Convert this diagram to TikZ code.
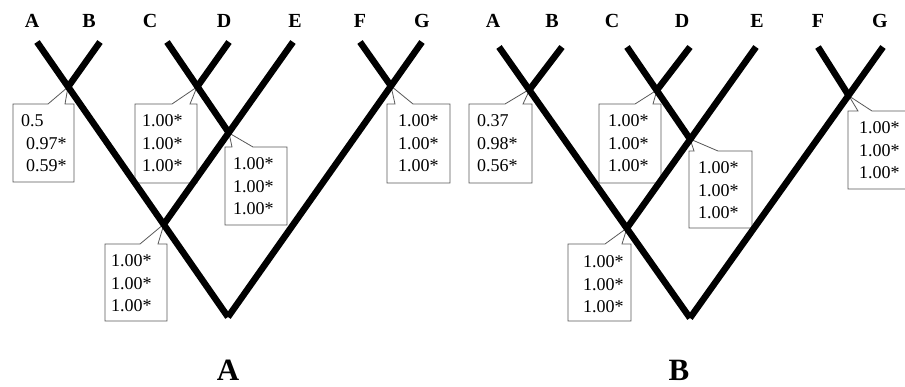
\documentclass[tikz,border=0pt]{standalone}
\usepackage{fontspec}
\setmainfont{Liberation Serif}
\tikzset{
  branch/.style={line width=6.5pt, line cap=butt},
  callbox/.style={draw=black!65, line width=0.8pt, fill=white},
  val/.style={anchor=base west, inner sep=0pt, font=\fontsize{18}{22}\selectfont},
  tiplabel/.style={font=\fontsize{20}{24}\selectfont\bfseries, inner sep=0pt},
  panel/.style={font=\fontsize{31}{36}\selectfont\bfseries, inner sep=0pt}
}
\newcommand\mycallout[7]{\draw[callbox] (#1,#2) -- (#5,#2) -- (#7) -- (#6,#2) -- (#3,#2) -- (#3,#4) -- (#1,#4) -- cycle;}
\newcommand\myvals[6]{%
  \node[val] (#1a) at (#2,#3) {#4};
  \node[val] (#1b) at (#2,#3+22.5) {#5};
  \node[val] (#1c) at (#2,#3+45) {#6};}
\begin{document}
\begin{tikzpicture}[x=1pt,y=-1pt]
\useasboundingbox (0,0) rectangle (905,387);
\clip (0,0) rectangle (905,387);
% ---------- Tree A coordinates ----------
\coordinate (aA) at (37,42);
\coordinate (aB) at (100,42);
\coordinate (aC) at (167,42);
\coordinate (aD) at (229,42);
\coordinate (aE) at (293,42);
\coordinate (aF) at (360,42);
\coordinate (aG) at (422,42);
\coordinate (aAB) at (68,87);
\coordinate (aCD) at (197,87);
\coordinate (aCDE) at (229,133);
\coordinate (aABCDE) at (164,224);
\coordinate (aFG) at (391,86);
\coordinate (aR) at (228,317);
% ---------- Tree B coordinates ----------
\coordinate (bA) at (499,47);
\coordinate (bB) at (562,47);
\coordinate (bC) at (627,47);
\coordinate (bD) at (690,47);
\coordinate (bE) at (756,47);
\coordinate (bF) at (818,47);
\coordinate (bG) at (883,47);
\coordinate (bAB) at (530,89);
\coordinate (bCD) at (657,90);
\coordinate (bCDE) at (690,139);
\coordinate (bABCDE) at (627,228);
\coordinate (bFG) at (849,96);
\coordinate (bR) at (690,318);
% ---------- callout boxes ----------
\mycallout{13}{104}{74}{182}{48}{65}{aAB}
\mycallout{135}{104}{197}{183}{172}{190}{aCD}
\mycallout{225}{147}{287}{225}{232}{253}{aCDE}
\mycallout{387}{104}{450}{183}{395}{413}{aFG}
\mycallout{105}{244}{167}{321}{140}{158}{aABCDE}
\mycallout{469}{104}{532}{183}{505}{523}{bAB}
\mycallout{599}{104}{661}{183}{635}{653}{bCD}
\mycallout{689}{151}{752}{228}{694}{718}{bCDE}
\mycallout{848}{111}{915}{189}{858}{872}{bFG}
\mycallout{568}{244}{631}{321}{605}{622}{bABCDE}
% ---------- branches ----------
\foreach \t in {a,b}{
  \draw[branch] (\t A) -- (\t R);
  \draw[branch] (\t B) -- (\t AB);
  \draw[branch] (\t C) -- (\t CDE);
  \draw[branch] (\t D) -- (\t CD);
  \draw[branch] (\t E) -- (\t ABCDE);
  \draw[branch] (\t F) -- (\t FG);
  \draw[branch] (\t G) -- (\t R);
}
% ---------- support values ----------
\node[val] (v1a) at (21,127) {0.5};
\node[val] (v1b) at (26,149.5) {0.97*};
\node[val] (v1c) at (26,172) {0.59*};
\myvals{v2}{142}{127}{1.00*}{1.00*}{1.00*}
\myvals{v3}{233}{170}{1.00*}{1.00*}{1.00*}
\myvals{v4}{398}{127}{1.00*}{1.00*}{1.00*}
\myvals{v5}{111}{267}{1.00*}{1.00*}{1.00*}
\myvals{w1}{477}{127}{0.37}{0.98*}{0.56*}
\myvals{w2}{608}{127}{1.00*}{1.00*}{1.00*}
\myvals{w3}{698}{174}{1.00*}{1.00*}{1.00*}
\myvals{w4}{859}{134}{1.00*}{1.00*}{1.00*}
\myvals{w5}{583}{268}{1.00*}{1.00*}{1.00*}
% ---------- tip labels ----------
\node[tiplabel] (laA) at (32,21) {A};
\node[tiplabel] (laB) at (89,21) {B};
\node[tiplabel] (laC) at (150,21) {C};
\node[tiplabel] (laD) at (224,21) {D};
\node[tiplabel] (laE) at (295,21) {E};
\node[tiplabel] (laF) at (360,21) {F};
\node[tiplabel] (laG) at (422,21) {G};
\node[tiplabel] (lbA) at (493,21) {A};
\node[tiplabel] (lbB) at (552,21) {B};
\node[tiplabel] (lbC) at (612,21) {C};
\node[tiplabel] (lbD) at (682,21) {D};
\node[tiplabel] (lbE) at (757,21) {E};
\node[tiplabel] (lbF) at (818,21) {F};
\node[tiplabel] (lbG) at (880,21) {G};
% ---------- panel labels ----------
\node[panel] (pA) at (228,370) {A};
\node[panel] (pB) at (679,370) {B};
\end{tikzpicture}
\end{document}
